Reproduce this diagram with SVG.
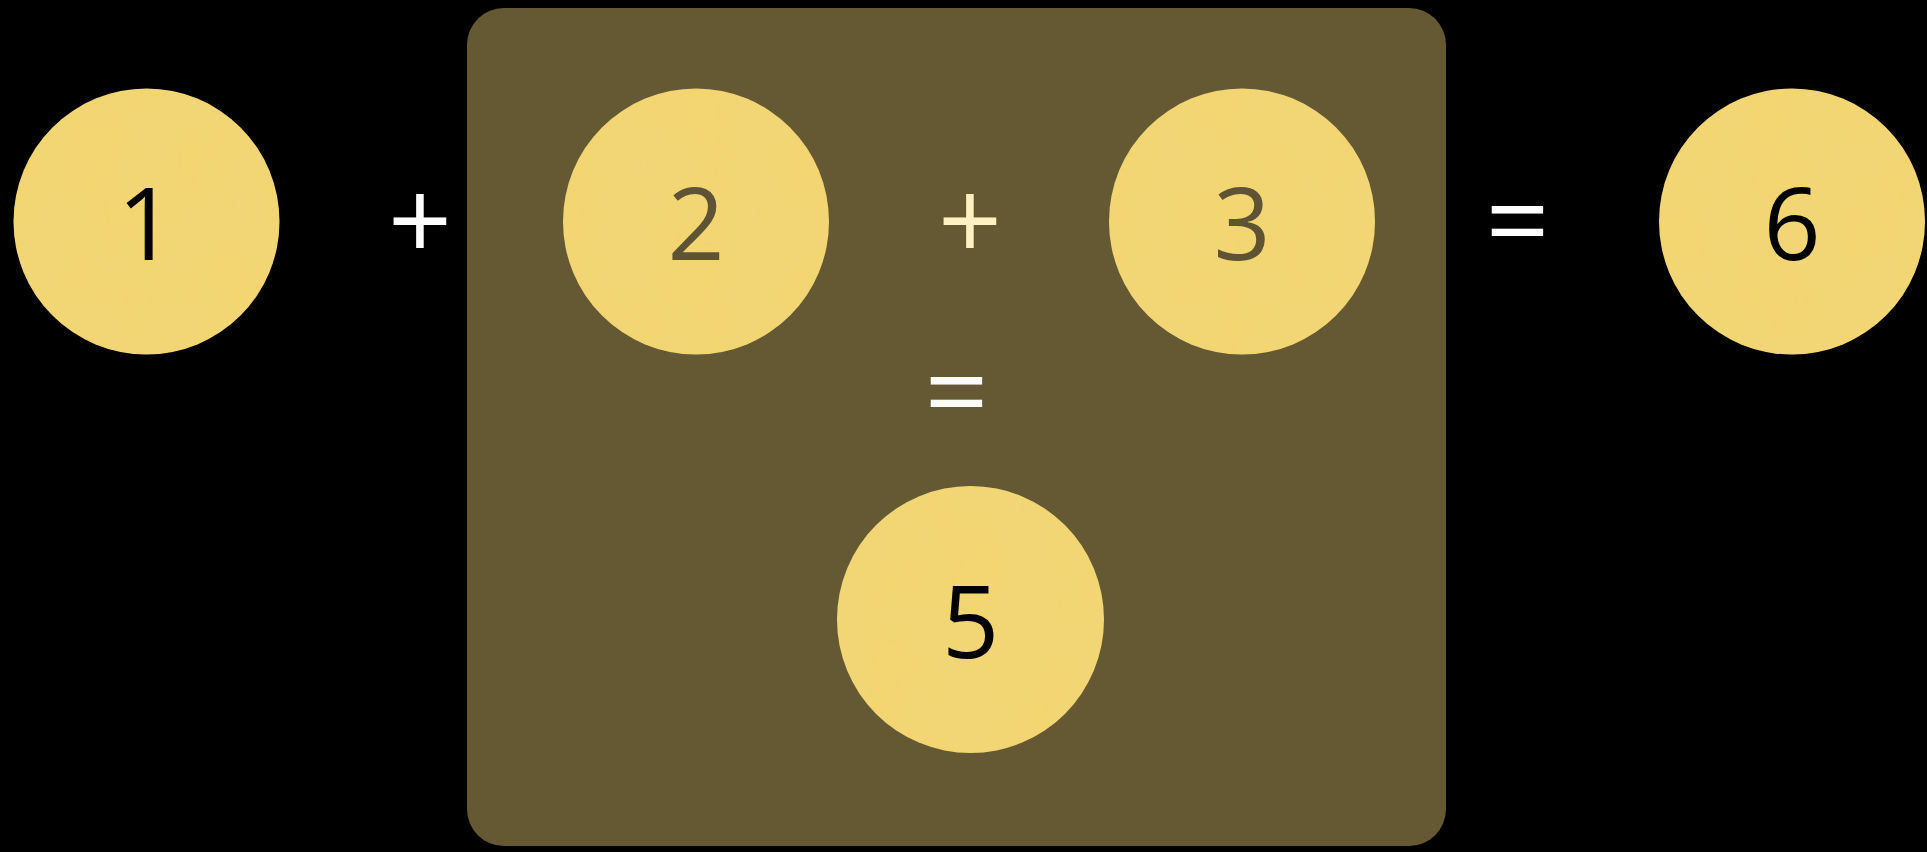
<svg xmlns="http://www.w3.org/2000/svg" width="1927" height="852" viewBox="0 0 1927 852">
<defs>
<filter id="tex" x="0" y="0" width="100%" height="100%">
<feTurbulence type="fractalNoise" baseFrequency="0.015" numOctaves="3" seed="4" result="n"/>
<feColorMatrix in="n" type="matrix" values="0 0 0 0 0.85  0 0 0 0 0.7  0 0 0 0 0.25  0 0 0 0.35 -0.1" result="c"/>
<feComposite in="c" in2="SourceGraphic" operator="in" result="m"/>
<feMerge><feMergeNode in="SourceGraphic"/><feMergeNode in="m"/></feMerge>
</filter>
</defs>
<style>
.disk{fill:#f3d672;}
.num{font-family:"Open Sans","Noto Sans",sans-serif;font-size:100px;font-weight:400;text-anchor:middle;fill:#000;}
.dim{fill:#5e5434;}
.op{font-family:"Open Sans","Noto Sans",sans-serif;font-size:112px;font-weight:400;text-anchor:middle;fill:#fff;}
.opc{fill:#fdf0c3;}
</style>
<rect width="1927" height="852" fill="#000"/>
<rect id="group-box" x="467" y="8" width="979" height="838" rx="37" fill="#645933"/>
<g id="n1"><circle class="disk" cx="146.5" cy="221.5" r="133" filter="url(#tex)"/><text class="num" x="146" y="260">1</text></g>
<g id="n2"><circle class="disk" cx="696" cy="221.5" r="133" filter="url(#tex)"/><text class="num dim" x="696" y="260">2</text></g>
<g id="n3"><circle class="disk" cx="1242" cy="221.5" r="133" filter="url(#tex)"/><text class="num dim" x="1242" y="260">3</text></g>
<g id="n6"><circle class="disk" cx="1792" cy="221.5" r="133" filter="url(#tex)"/><text class="num" x="1792" y="260">6</text></g>
<g id="n5"><circle class="disk" cx="970.5" cy="619.5" r="133.5" filter="url(#tex)"/><text class="num" x="970.5" y="658">5</text></g>
<g id="connectors">
<text class="op" x="420" y="261">+</text>
<text class="op opc" x="970" y="261">+</text>
<text class="op" x="1517.5" y="261">=</text>
<text class="op" x="956.5" y="432">=</text>
</g>
</svg>
